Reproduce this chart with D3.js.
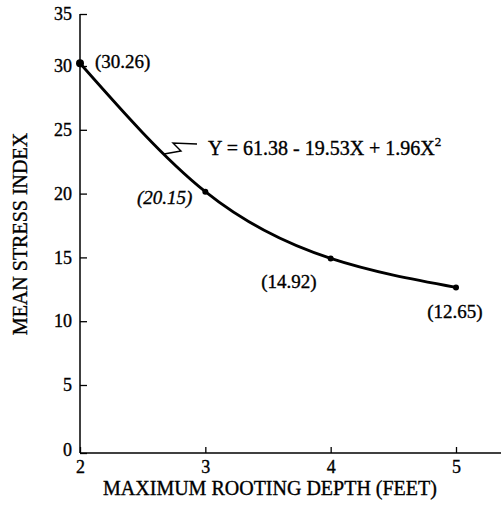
<!DOCTYPE html>
<html>
<head>
<meta charset="utf-8">
<script src="https://cdn.jsdelivr.net/npm/d3@7"></script>
<style>
  body { margin: 0; background: #fff; }
  svg { display: block; }
  svg text { font-family: "Liberation Serif", "Times New Roman", serif; fill: #000; stroke: #000; stroke-width: 0.35px; }
</style>
</head>
<body>
<div id="chart"></div>
<script>
// data
var depth = [2, 3, 4, 5];
var stress = [30.26, 20.15, 14.92, 12.65];
var pointLabels = ["(30.26)", "(20.15)", "(14.92)", "(12.65)"];
var xTicks = [2, 3, 4, 5];
var yTicks = [0, 5, 10, 15, 20, 25, 30, 35];
var equation = "Y = 61.38 - 19.53X + 1.96X";

var width = 501, height = 506;

var svg = d3.select("#chart").append("svg")
    .attr("width", width)
    .attr("height", height);

var x = d3.scaleLinear().domain([2, 5]).range([80, 456]);
// hand drawn axis, spacing is not quite even
var y = d3.scaleLinear().domain([0, 5, 30, 35]).range([453, 385, 66, 14]);

// axes
var xAxis = svg.append("g")
    .attr("transform", "translate(0," + y(0) + ")")
    .call(d3.axisBottom(x).tickValues(xTicks).tickSize(-6).tickPadding(7).tickFormat(d3.format("d")));
xAxis.select(".domain").remove();
xAxis.append("line")
    .attr("x1", x(2)).attr("x2", width)
    .attr("stroke", "#000").attr("stroke-width", 1.5);

var yAxis = svg.append("g")
    .attr("transform", "translate(" + x(2) + ",0)")
    .call(d3.axisLeft(y).tickValues(yTicks).tickSize(-7).tickPadding(8).tickFormat(d3.format("d")));
yAxis.select(".domain").remove();
yAxis.append("line")
    .attr("y1", y(0)).attr("y2", y(35))
    .attr("stroke", "#000").attr("stroke-width", 1.5);

svg.selectAll(".tick line").attr("stroke", "#000").attr("stroke-width", 1.3);
svg.selectAll(".tick text").style("font-size", "18px");
yAxis.selectAll(".tick")
    .filter(function(d) { return d === 0; })
    .select("text").attr("dy", "0.15em");

// titles
svg.append("text")
    .attr("x", 270).attr("y", 495)
    .attr("text-anchor", "middle")
    .style("font-size", "20px")
    .text("MAXIMUM ROOTING DEPTH (FEET)");

svg.append("text")
    .attr("transform", "translate(27,234) rotate(-90)")
    .attr("text-anchor", "middle")
    .style("font-size", "20px")
    .text("MEAN STRESS INDEX");

// curve through the points
var line = d3.line()
    .x(function(d, i) { return x(depth[i]); })
    .y(function(d) { return y(d); })
    .curve(d3.curveNatural);

svg.append("path")
    .datum(stress)
    .attr("d", line)
    .attr("fill", "none")
    .attr("stroke", "#000")
    .attr("stroke-width", 2.8);

svg.selectAll(".pt")
    .data(stress)
    .enter().append("circle")
    .attr("class", "pt")
    .attr("cx", function(d, i) { return x(depth[i]); })
    .attr("cy", function(d) { return y(d); })
    .attr("r", function(d, i) { return i === 0 ? 4 : 3; })
    .attr("fill", "#000");

// value labels
var labelPos = [
  { dx: 15, dy: 5, anchor: "start", italic: false },
  { dx: -13, dy: 12, anchor: "end", italic: true },
  { dx: -14, dy: 30, anchor: "end", italic: false },
  { dx: -1, dy: 31, anchor: "middle", italic: false }
];

svg.selectAll(".lbl")
    .data(stress)
    .enter().append("text")
    .attr("class", "lbl")
    .attr("x", function(d, i) { return x(depth[i]) + labelPos[i].dx; })
    .attr("y", function(d, i) { return y(d) + labelPos[i].dy; })
    .attr("text-anchor", function(d, i) { return labelPos[i].anchor; })
    .style("font-size", "19px")
    .style("font-style", function(d, i) { return labelPos[i].italic ? "italic" : "normal"; })
    .text(function(d, i) { return pointLabels[i]; });

// equation with zigzag leader
svg.append("path")
    .attr("d", "M164,154 L181,151 L173,143 L197,144")
    .attr("fill", "none")
    .attr("stroke", "#000")
    .attr("stroke-width", 1.4);

var eq = svg.append("text")
    .attr("x", 208).attr("y", 155)
    .style("font-size", "20px")
    .text(equation);
eq.append("tspan")
    .attr("dy", -9)
    .style("font-size", "13px")
    .text("2");
</script>
</body>
</html>
